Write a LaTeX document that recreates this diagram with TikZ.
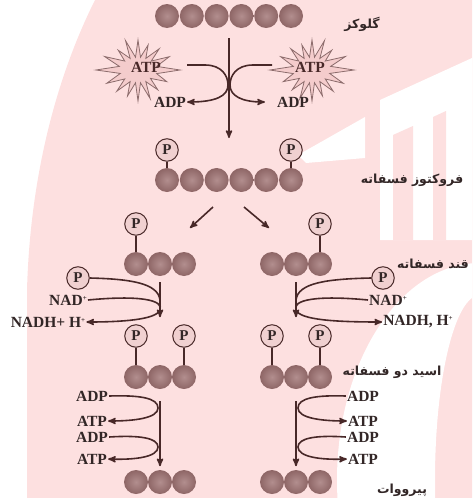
\documentclass[tikz,border=0pt]{standalone}
\usepackage{fontspec}
\setmainfont{Liberation Serif}
\newfontfamily\fa[Script=Arabic]{DejaVu Sans}
\TeXXeTstate=1
\usetikzlibrary{positioning}
\usetikzlibrary{arrows}
\usetikzlibrary{calc}

\definecolor{bgpink}{RGB}{253,224,224}
\definecolor{ink}{RGB}{72,40,40}
\definecolor{txt}{RGB}{50,38,38}
\definecolor{ballin}{RGB}{178,142,142}
\definecolor{ballout}{RGB}{142,102,102}
\definecolor{pfill}{RGB}{240,208,208}
\definecolor{starfill}{RGB}{244,204,204}
\definecolor{starline}{RGB}{140,108,108}

\tikzset{
  flow/.style={draw=ink, line width=1.6pt, -stealth'},
  link/.style={draw=ink, line width=1.6pt},
  stem/.style={draw=ink, line width=1.4pt},
  sugar/.style={circle, inner sep=0pt, minimum size=24pt, inner color=ballin, outer color=ballout},
  phos/.style={circle, draw=ink, fill=pfill, line width=1pt, minimum size=22.5pt, inner sep=0pt,
    font=\fontsize{15}{15}\selectfont\bfseries, text=txt},
  lbl/.style={font=\fontsize{15.5}{16}\selectfont\bfseries, text=txt, inner sep=1pt},
  falbl/.style={font=\fa\bfseries\fontsize{12.5}{14}\selectfont, text=txt, inner sep=1pt},
  atpstar/.style={draw=starline, fill=starfill, line width=0.8pt, line join=miter}
}
\newcommand{\plus}{\raisebox{0.7ex}{\fontsize{7}{7}\selectfont +}}

\begin{document}
\begin{tikzpicture}[x=1pt, y=-1pt]
  \useasboundingbox (0,0) rectangle (472,498);

  % pink backdrop with the white logo cut-outs
  \fill[bgpink] (95,0) .. controls (55,80) and (30,180) .. (27,290) -- (27,498) -- (472,498) -- (472,0) -- cycle;
  \begin{scope}
    \clip (0,0) rectangle (472,498);
    \fill[white] (298,155) -- (365,117) -- (365,158) -- (306,163) -- cycle;
    \fill[white] (380,100) -- (472,58) -- (472,240) -- (380,240) -- cycle;
    \fill[bgpink] (393,135) -- (413,126) -- (413,240) -- (393,240) -- cycle;
    \fill[bgpink] (433,117) -- (446,111) -- (446,240) -- (433,240) -- cycle;
    \fill[white, even odd rule] (480,480) ellipse [x radius=143, y radius=217]
      (480,480) ellipse [x radius=45, y radius=185];
  \end{scope}

  % spike list of the ATP stars
  \def\spikes{11/19, 22/31, 34/15, 45/28, 56/14, 67/31, 79/13, 90/31, 101/13, 112/28, 124/14,
    135/30, 146/16, 157/34, 169/18, 180/42, 191/19, 202/36, 214/16, 225/28, 236/14, 247/32,
    259/13, 270/30, 281/13, 292/27, 304/14, 315/30, 326/16, 337/34, 349/19}
  \begin{scope}[shift={(138,70)}]
    \draw[atpstar] (0:42) \foreach \a/\r in \spikes { -- (\a:\r) } -- cycle;
  \end{scope}
  \begin{scope}[shift={(312,70)}, xscale=-1]
    \draw[atpstar] (0:42) \foreach \a/\r in \spikes { -- (\a:\r) } -- cycle;
  \end{scope}
  \node[lbl, text=ink] (atpL) at (146,67) {ATP};
  \node[lbl, text=ink] (atpR) at (310,67) {ATP};

  % six-carbon chains
  \foreach \i in {1,...,6} {
    \pgfmathsetmacro\xx{167+24.8*(\i-1)}
    \node[sugar] (g\i) at (\xx,16) {};
    \node[sugar] (f\i) at (\xx,180) {};
  }
  \node[phos] (fp1) at (167,150) {P};
  \node[phos] (fp6) at (291,150) {P};
  \draw[stem] (fp1) -- (f1);
  \draw[stem] (fp6) -- (f6);

  % three-carbon chains
  \foreach \i/\xl/\xr in {1/136/272, 2/160/296, 3/184/320} {
    \node[sugar] (tL\i) at (\xl,264) {};
    \node[sugar] (tR\i) at (\xr,264) {};
    \node[sugar] (bL\i) at (\xl,377) {};
    \node[sugar] (bR\i) at (\xr,377) {};
    \node[sugar] (yL\i) at (\xl,482) {};
    \node[sugar] (yR\i) at (\xr,482) {};
  }
  \node[phos] (tpL) at (136,224) {P};
  \node[phos] (tpR) at (320,224) {P};
  \draw[stem] (tpL) -- (tL1);
  \draw[stem] (tpR) -- (tR3);
  \node[phos] (bpL1) at (136,336) {P};
  \node[phos] (bpL3) at (184,336) {P};
  \node[phos] (bpR1) at (272,336) {P};
  \node[phos] (bpR3) at (320,336) {P};
  \draw[stem] (bpL1) -- (bL1);
  \draw[stem] (bpL3) -- (bL3);
  \draw[stem] (bpR1) -- (bR1);
  \draw[stem] (bpR3) -- (bR3);

  % names of the compounds
  \node[falbl] (glc) at (362,24) {\beginR گلوکز\endR};
  \node[falbl] (fbp) at (412,180) {\beginR فروکتوز فسفاته\endR};
  \node[falbl] (g3p) at (433,264) {\beginR قند فسفاته\endR};
  \node[falbl] (bpg) at (392,372) {\beginR اسید دو فسفاته\endR};
  \node[falbl] (pyr) at (402,490) {\beginR پیرووات\endR};

  % first stage
  \coordinate (sTop) at (229,38);
  \coordinate (sEnd) at (229,138);
  \coordinate (inL) at (187,65);
  \coordinate (inR) at (272,65);
  \node[lbl] (adpL) at (170,102) {ADP};
  \node[lbl] (adpR) at (293,102) {ADP};
  \draw[flow] (sTop) -- (sEnd);
  \draw[flow] (inL) -- (205,65) .. controls (222,65) and (228,76) .. (228,85)
    .. controls (228,96) and (216,102) .. (adpL.east);
  \draw[flow] (inR) -- (253,65) .. controls (236,65) and (230,76) .. (230,85)
    .. controls (230,96) and (242,102) .. ([xshift=-11pt]adpR.west);

  % splitting
  \coordinate (dL0) at (213,207);
  \coordinate (dL1) at (190,228);
  \coordinate (dR0) at (244,207);
  \coordinate (dR1) at (269,228);
  \draw[flow] (dL0) -- (dL1);
  \draw[flow] (dR0) -- (dR1);

  % oxidation
  \node[phos] (pNadL) at (78,278) {P};
  \node[lbl] (nadL) at (68,300) {NAD\plus};
  \node[lbl] (nadhL) at (48,322) {NADH+ H\plus};
  \node[phos] (pNadR) at (383,278) {P};
  \node[lbl] (nadR) at (388,300) {NAD\plus};
  \node[lbl] (nadhR) at (418,322) {NADH, H\plus};
  \draw[flow] (tL2.south) ++(0,6) -- ++(0,35);
  \draw[flow] (tR2.south) ++(0,6) -- ++(0,35);
  \draw[link] (pNadL.east) .. controls (130,279) and (158,283) .. (160,300);
  \draw[flow] (nadL.east) .. controls (140,295) and (164,300) .. (160,310)
    .. controls (156,320) and (120,322) .. (nadhL.east);
  \draw[link] (pNadR.west) .. controls (326,279) and (298,283) .. (296,300);
  \draw[flow] (nadR.west) .. controls (316,295) and (292,300) .. (296,310)
    .. controls (300,320) and (336,322) .. (nadhR.west);

  % ATP formation
  \node[lbl] (adpL1) at (92,396) {ADP};
  \node[lbl] (atpL1) at (92,421) {ATP};
  \node[lbl] (adpL2) at (92,437) {ADP};
  \node[lbl] (atpL2) at (92,459) {ATP};
  \node[lbl] (adpR1) at (363,396) {ADP};
  \node[lbl] (atpR1) at (363,421) {ATP};
  \node[lbl] (adpR2) at (363,437) {ADP};
  \node[lbl] (atpR2) at (363,459) {ATP};
  \draw[flow] (bL2.south) ++(0,12) -- ++(0,65);
  \draw[flow] (bR2.south) ++(0,12) -- ++(0,65);
  \draw[flow] (adpL1.east) .. controls (140,395) and (158,398) .. (158,408)
    .. controls (158,418) and (135,421) .. (atpL1.east);
  \draw[flow] (adpL2.east) .. controls (140,435) and (158,438) .. (158,447)
    .. controls (158,457) and (135,460) .. (atpL2.east);
  \draw[flow] (adpR1.west) .. controls (316,395) and (298,398) .. (298,408)
    .. controls (298,418) and (321,421) .. (atpR1.west);
  \draw[flow] (adpR2.west) .. controls (316,435) and (298,438) .. (298,447)
    .. controls (298,457) and (321,460) .. (atpR2.west);
\end{tikzpicture}
\end{document}
